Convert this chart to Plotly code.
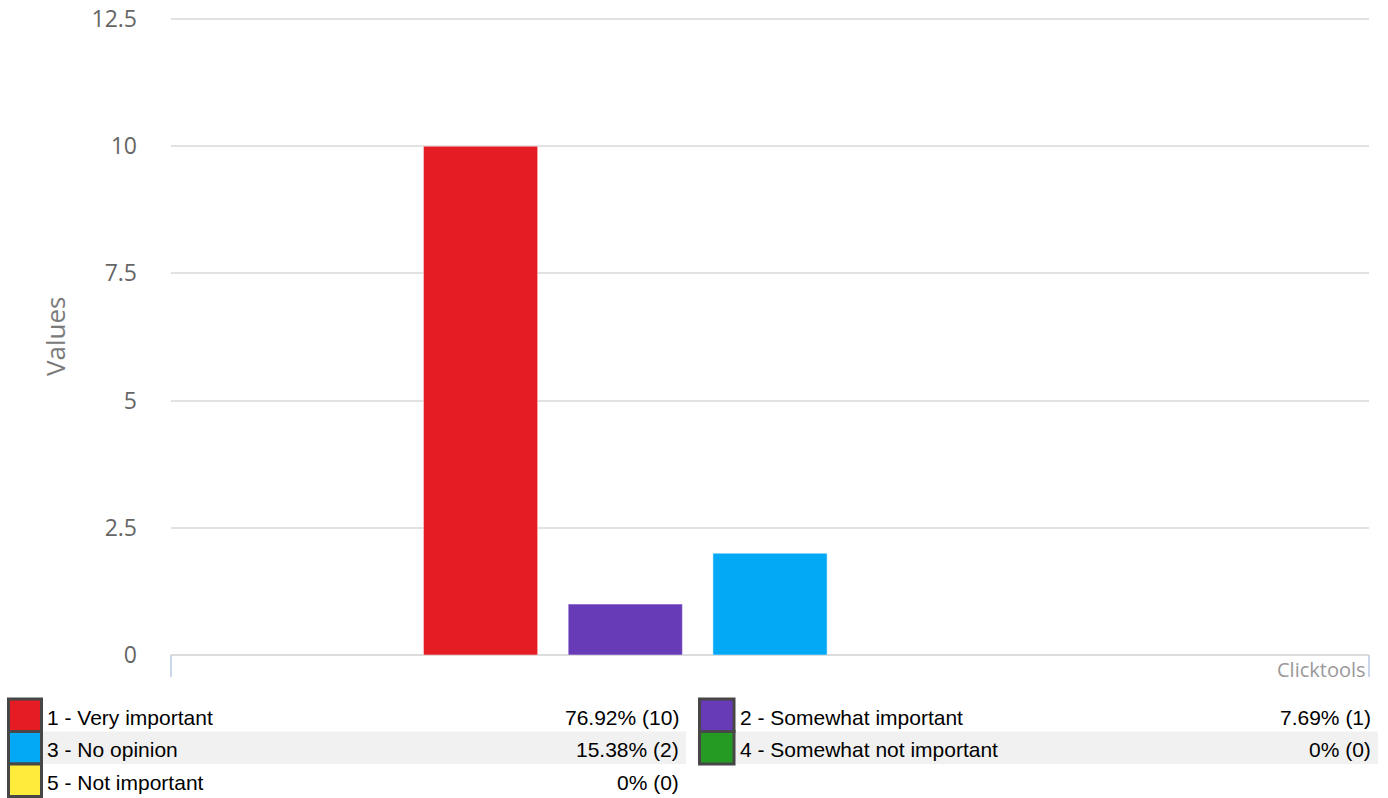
import plotly.graph_objects as go

# Survey answers and their response counts
answers = ["1 - Very important", "2 - Somewhat important", "3 - No opinion",
           "4 - Somewhat not important", "5 - Not important"]
counts = [10, 1, 2, 0, 0]
colors = ["#e51c23", "#673ab7", "#03a9f4", "#259b24", "#ffeb3b"]
y_ticks = [0, 2.5, 5, 7.5, 10, 12.5]
y_tick_labels = ["0", "2.5", "5", "7.5", "10", "12.5"]

W, H = 1388, 798
PL, PR, PT, PB = 171, 1369, 16, 655  # plot area in pixels
Y_TOP_PX = 19                         # pixel row of the top tick (12.5)
y_max = 12.5 * (PB - PT) / (PB - Y_TOP_PX)


def px_x(x):
    return (x - PL) / (PR - PL)


def px_y(y):
    return (PB - y) / (PB - PT)


fig = go.Figure()
for name, n, c in zip(answers, counts, colors):
    fig.add_trace(go.Bar(
        x=["Responses"], y=[n], name=name,
        marker=dict(color=c,
                    line=dict(color="rgba(255,255,255,0.45)", width=1 if n else 0)),
        showlegend=False,
    ))

total = sum(counts)
shapes = []
annotations = []

# axis end markers under the baseline
for xp in (PL, PR):
    shapes.append(dict(type="line", xref="paper", yref="paper",
                       x0=px_x(xp), x1=px_x(xp), y0=0, y1=px_y(677),
                       line=dict(color="#ccd6eb", width=2)))

annotations.append(dict(text="Clicktools", xref="paper", yref="paper",
                        x=px_x(1368), y=px_y(670), xanchor="right", yanchor="middle",
                        showarrow=False,
                        font=dict(family="Open Sans", size=20, color="#999999")))

annotations.append(dict(text="Values", xref="paper", yref="paper",
                        x=px_x(55), y=px_y(337), xanchor="center", yanchor="middle",
                        textangle=-90, showarrow=False,
                        font=dict(family="Open Sans", size=26, color="#7a7a7a")))

# legend table: two columns, three rows
row_top = 699
row_h = 32.5
columns = [
    dict(sw0=8.5, sw1=41.5, label=45, value=681, stripe0=43, stripe1=686),
    dict(sw0=699.5, sw1=734, label=738, value=1373, stripe0=735, stripe1=1378),
]
for i, (name, n, c) in enumerate(zip(answers, counts, colors)):
    row, col = divmod(i, 2)
    cfg = columns[col]
    y0 = row_top + row * row_h
    y1 = y0 + row_h
    yc = (y0 + y1) / 2 + 2
    if row % 2 == 1:
        shapes.append(dict(type="rect", xref="paper", yref="paper",
                           x0=px_x(cfg["stripe0"]), x1=px_x(cfg["stripe1"]),
                           y0=px_y(y0), y1=px_y(y1),
                           fillcolor="#f1f1f1", line=dict(width=0), layer="below"))
    shapes.append(dict(type="rect", xref="paper", yref="paper",
                       x0=px_x(cfg["sw0"]), x1=px_x(cfg["sw1"]),
                       y0=px_y(y0), y1=px_y(y1),
                       fillcolor=c, line=dict(color="#474747", width=3)))
    pct = 100 * n / total
    pct_text = f"{pct:.2f}%" if n else "0%"
    annotations.append(dict(text=name, xref="paper", yref="paper",
                            x=px_x(cfg["label"]), y=px_y(yc),
                            xanchor="left", yanchor="middle", showarrow=False,
                            font=dict(family="Liberation Sans, Arial", size=21, color="#000")))
    annotations.append(dict(text=f"{pct_text} ({n})", xref="paper", yref="paper",
                            x=px_x(cfg["value"]), y=px_y(yc),
                            xanchor="right", yanchor="middle", showarrow=False,
                            font=dict(family="Liberation Sans, Arial", size=21, color="#000")))

fig.update_layout(
    width=W, height=H,
    margin=dict(l=PL, r=W - PR, t=PT, b=H - PB, pad=0, autoexpand=False),
    paper_bgcolor="white", plot_bgcolor="white",
    barmode="group", bargap=0.396, bargroupgap=0.211,
    shapes=shapes, annotations=annotations,
    xaxis=dict(showticklabels=False, showgrid=False, zeroline=False,
               showline=False, ticks="", automargin=False),
    yaxis=dict(range=[0, y_max], tickvals=y_ticks, ticktext=y_tick_labels,
               showgrid=True, gridcolor="#e2e2e2", gridwidth=2,
               zeroline=True, zerolinecolor="#dcdcdc", zerolinewidth=2,
               showline=False, ticks="", ticklabelstandoff=33, automargin=False,
               tickfont=dict(family="Open Sans", size=23, color="#666")),
    font=dict(family="Open Sans"),
)

fig.write_html("out.html")
